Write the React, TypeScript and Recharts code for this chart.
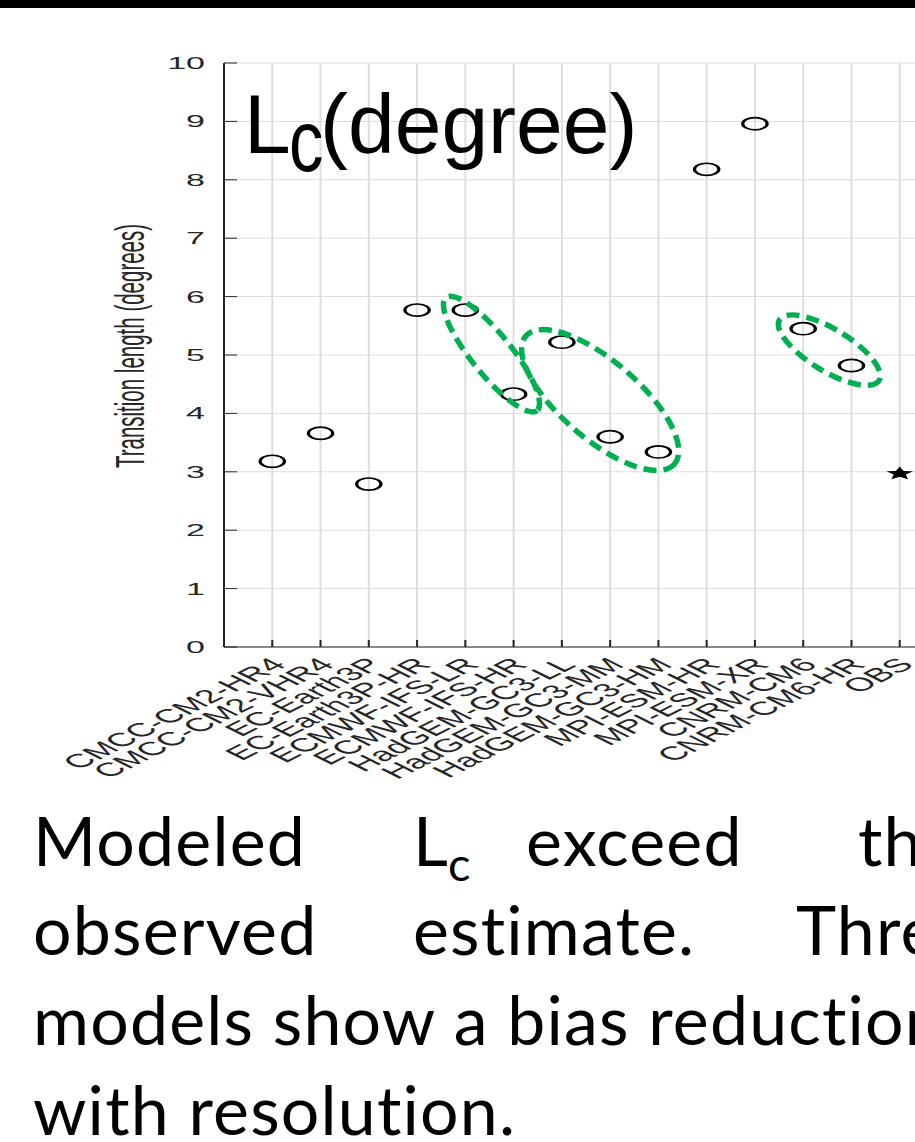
import React from "react";
import { ScatterChart, Scatter, XAxis, YAxis, CartesianGrid } from "recharts";

// model list in plotting order, OBS is drawn last
const models = [
  "CMCC-CM2-HR4",
  "CMCC-CM2-VHR4",
  "EC-Earth3P",
  "EC-Earth3P-HR",
  "ECMWF-IFS-LR",
  "ECMWF-IFS-HR",
  "HadGEM-GC3-LL",
  "HadGEM-GC3-MM",
  "HadGEM-GC3-HM",
  "MPI-ESM-HR",
  "MPI-ESM-XR",
  "CNRM-CM6",
  "CNRM-CM6-HR",
];
const obsName = "OBS";

// transition length Lc (degrees)
const modelLc = [3.18, 3.66, 2.79, 5.77, 5.77, 4.33, 5.22, 3.6, 3.34, 8.18, 8.96, 5.45, 4.82];
const obsLc = 2.98;

const yTicks = [0, 1, 2, 3, 4, 5, 6, 7, 8, 9, 10];

// families where the bias shrinks with resolution (circled in green)
const resolutionGroups = [
  ["ECMWF-IFS-LR", "ECMWF-IFS-HR"],
  ["HadGEM-GC3-LL", "HadGEM-GC3-MM", "HadGEM-GC3-HM"],
  ["CNRM-CM6", "CNRM-CM6-HR"],
];

const categories = [...models, obsName];
const xTicks = categories.map((_, i) => i + 1);

const modelPoints = models.map((m, i) => ({ x: i + 1, y: modelLc[i], name: m }));
const obsPoints = [{ x: categories.length, y: obsLc, name: obsName }];
const groupPoints = resolutionGroups.map((g) =>
  g.map((m) => {
    const i = models.indexOf(m);
    return { x: i + 1, y: modelLc[i], name: m };
  })
);

// the original figure is stretched horizontally
const STRETCH = 2;
const AXIS = "#262626";
const FONT = "'Liberation Sans', Arial, Helvetica, sans-serif";
const GREEN = "#00b050";

// ring look (display pixels), one per group
const ringStyle = [
  { pad: 24, minor: 20, tilt: -9, dx: 2, dy: 2 },
  { pad: 25, minor: 39, tilt: -8, dx: -10, dy: 3 },
  { pad: 28, minor: 21, tilt: -6, dx: 2, dy: 3 },
];

const OpenCircle = (p: any) => (
  <circle cx={p.cx} cy={p.cy} r={6.1} fill="none" stroke="#000" strokeWidth={1.6} />
);

const StarMark = (p: any) => {
  const pts: string[] = [];
  for (let k = 0; k < 10; k++) {
    const r = k % 2 === 0 ? 7 : 3.2;
    const a = -Math.PI / 2 + (k * Math.PI) / 5;
    pts.push(`${p.cx + r * Math.cos(a)},${p.cy + 0.5 + r * Math.sin(a)}`);
  }
  return <polygon points={pts.join(" ")} fill="#000" />;
};

const Blank = () => <g />;

const makeRing = (idx: number) => (lp: any) => {
  const pts = lp.points || [];
  if (pts.length < 2) return <g />;
  const s = ringStyle[idx];
  const a = pts[0];
  const b = pts[pts.length - 1];
  const x0 = a.x * STRETCH;
  const x1 = b.x * STRETCH;
  const cx = (x0 + x1) / 2 + s.dx;
  const cy = (a.y + b.y) / 2 + s.dy;
  const ang = (Math.atan2(b.y - a.y, x1 - x0) * 180) / Math.PI + s.tilt;
  const rx = Math.hypot(x1 - x0, b.y - a.y) / 2 + s.pad;
  return (
    <g transform={`scale(${1 / STRETCH},1)`}>
      <ellipse
        cx={cx}
        cy={cy}
        rx={rx}
        ry={s.minor}
        transform={`rotate(${ang} ${cx} ${cy})`}
        fill="none"
        stroke={GREEN}
        strokeWidth={5.5}
        strokeDasharray="13 7"
      />
    </g>
  );
};

const XTick = ({ x, y, payload }: any) => (
  <g transform={`translate(${x + 3},${y}) rotate(-45)`}>
    <text textAnchor="end" dy="0.35em" fontSize={19} fill={AXIS} fontFamily={FONT}>
      {categories[payload.value - 1]}
    </text>
  </g>
);

const YLabel = ({ viewBox }: any) => {
  const cx = viewBox.x + 65;
  const cy = viewBox.y + viewBox.height / 2 - 9;
  return (
    <text
      x={cx}
      y={cy}
      transform={`rotate(-90 ${cx} ${cy})`}
      textAnchor="middle"
      dominantBaseline="central"
      fontSize={20.5}
      fill={AXIS}
      fontFamily={FONT}
    >
      Transition length (degrees)
    </text>
  );
};

export default function App() {
  return (
    <div
      style={{
        position: "absolute",
        left: 0,
        top: 0,
        width: 915,
        height: 1142,
        overflow: "hidden",
        background: "#fff",
      }}
    >
      <div style={{ position: "absolute", left: 0, top: 0, width: 915, height: 8, background: "#000" }} />
      <div style={{ position: "absolute", left: 0, top: 0, transform: `scaleX(${STRETCH})`, transformOrigin: "0 0" }}>
        <ScatterChart width={480} height={800} margin={{ top: 63, right: 6, bottom: 0, left: 0 }}>
          <CartesianGrid stroke="#dedede" />
          <XAxis
            type="number"
            dataKey="x"
            domain={[0, categories.length + 1]}
            ticks={xTicks}
            interval={0}
            height={153}
            tick={<XTick />}
            tickSize={-7}
            tickMargin={21}
            stroke={AXIS}
            tickLine={{ stroke: AXIS }}
          />
          <YAxis
            type="number"
            dataKey="y"
            domain={[0, 10]}
            ticks={yTicks}
            interval={0}
            width={112}
            tickSize={-6.5}
            tickMargin={16}
            stroke={AXIS}
            tick={{ fontSize: 17, fill: AXIS, fontFamily: FONT }}
            label={YLabel}
          />
          <Scatter data={modelPoints} shape={OpenCircle} isAnimationActive={false} />
          <Scatter data={obsPoints} shape={StarMark} isAnimationActive={false} />
          {groupPoints.map((g, i) => (
            <Scatter
              key={i}
              data={g}
              shape={Blank}
              line={makeRing(i)}
              lineType="joint"
              isAnimationActive={false}
            />
          ))}
        </ScatterChart>
      </div>

      <svg width={915} height={1142} style={{ position: "absolute", left: 0, top: 0, pointerEvents: "none" }}>
        <g fontFamily={FONT} fill="#000">
          <text x={244} y={153} fontSize={84}>L</text>
          <text transform="translate(289,171) scale(0.79,1)" fontSize={87}>c</text>
          <text x={320} y={153} fontSize={84}>(degree)</text>
        </g>
        <g
          fontFamily="Lato, 'Open Sans', sans-serif"
          fontSize={68}
          fill="#000"
          letterSpacing={1.2}
          style={{ fontVariantLigatures: "none" }}
        >
          <text x={33} y={866}>Modeled</text>
          <text x={413} y={866}>L</text>
          <text x={448} y={881} fontSize={47}>c</text>
          <text x={526} y={866}>exceed</text>
          <text x={858} y={866}>the</text>
          <text x={33} y={955}>observed</text>
          <text x={413} y={955}>estimate.</text>
          <text x={796} y={955}>Three</text>
          <text x={33} y={1045}>models show a bias reduction</text>
          <text x={33} y={1135}>with resolution.</text>
        </g>
      </svg>
    </div>
  );
}
